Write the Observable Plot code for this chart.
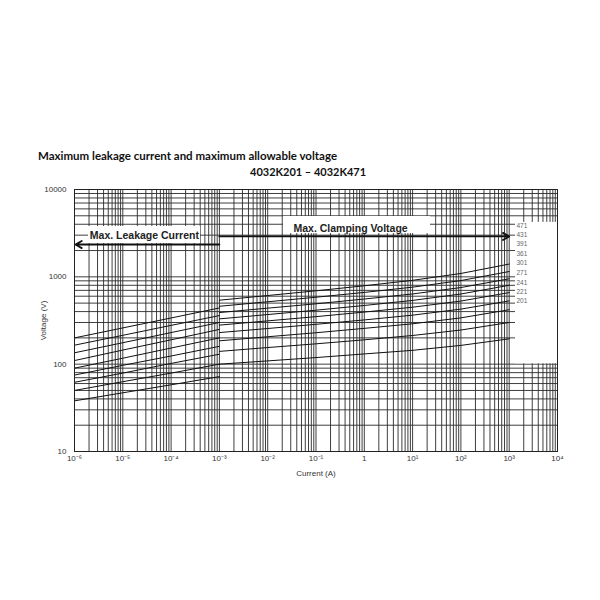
<!DOCTYPE html>
<html><head><meta charset="utf-8">
<script src="https://cdn.jsdelivr.net/npm/d3@7"></script>
<script src="https://cdn.jsdelivr.net/npm/@observablehq/plot@0.6"></script>
<style>
body{margin:0;background:#fff;}
#wrap{position:relative;width:600px;height:600px;background:#fff;}
#head{position:relative;height:180px;}
#title{position:absolute;left:38px;top:149px;font:bold 11.5px Lato, "Open Sans", sans-serif;color:#111;white-space:nowrap;}
#sub{position:absolute;left:250px;top:165px;font:bold 11px Lato, "Open Sans", sans-serif;color:#111;white-space:nowrap;}
</style></head>
<body><div id="wrap"><div id="head"><div id="title">Maximum leakage current and maximum allowable voltage</div><div id="sub">4032K201 – 4032K471</div></div><div id="chart"></div></div>
<script>
const models = ["471","431","391","361","301","271","241","221","201"];
const leakI = [1e-6, 1e-5, 1e-4, 1e-3];
const leakV = [
  [200,260,338,440],
  [165,214,278,360],
  [135,176,230,300],
  [110,145,190,250],
  [90,117,153,200],
  [75,97,124,160],
  [62,79,102,130],
  [50,63,79,100],
  [38,47,58,72]
];
const clampI = [1e-3, 1e-2, 1e-1, 1, 10, 100, 1000];
const clampV = [
  [540,611,692,790,912,1093,1400],
  [460,518,584,663,762,906,1150],
  [390,438,491,557,637,754,950],
  [330,370,415,470,537,636,800],
  [280,313,350,395,449,528,660],
  [230,256,286,321,364,427,530],
  [185,206,229,257,290,339,420],
  [140,155,171,190,213,246,300],
  [100,109,119,131,144,164,195]
];
const labelV = [3870,3000,2410,1850,1460,1120,861,679,536];
const xTicks = [1e-6,1e-5,1e-4,1e-3,1e-2,1e-1,1,10,100,1000,10000];
const yTicks = [10,100,1000,10000];
const annotations = ["Max. Leakage Current", "Max. Clamping Voltage"];

const rows = [];
models.forEach((m, i) => {
  leakI.forEach((I, j) => rows.push({model: m, part: "leak", I, V: leakV[i][j]}));
  clampI.forEach((I, j) => rows.push({model: m, part: "clamp", I, V: clampV[i][j]}));
});
const labelRows = models.map((m, i) => ({model: m, V: labelV[i]}));

const gridX = [];
for (let e = -6; e <= 3; e++) for (let k = 1; k <= 9; k++) gridX.push(k * Math.pow(10, e));
gridX.push(1e4);
const gridY = [];
for (let e = 1; e <= 3; e++) for (let k = 1; k <= 9; k++) gridY.push(k * Math.pow(10, e));
gridY.push(1e4);

const boxes = [
  {x1: 1350, x2: 1e4, y1: 101, y2: 4200},
  {x1: 1.95e-6, x2: 4.06e-4, y1: 2400, y2: 3770},
  {x1: 0.0212, x2: 23.5, y1: 3130, y2: 4910}
];
const arrows = [
  {x1: 1e-3, x2: 1.05e-6, y: 2344},
  {x1: 1e-3, x2: 1000, y: 2900}
];
const boxText = [
  {text: annotations[0], x: 2.8e-5, y: 2970},
  {text: annotations[1], x: 0.52, y: 3570}
];

const sup = {"-":"\u207B","0":"\u2070","1":"\u00B9","2":"\u00B2","3":"\u00B3","4":"\u2074","5":"\u2075","6":"\u2076","7":"\u2077","8":"\u2078","9":"\u2079"};
const fmtX = d => {
  const e = Math.round(Math.log10(d));
  if (e === 0) return "1";
  return "10" + String(e).split("").map(c => sup[c]).join("");
};

const chart = Plot.plot({
  width: 600, height: 320,
  marginTop: 9, marginLeft: 74, marginRight: 43, marginBottom: 49,
  x: {type: "log", domain: [1e-6, 1e4]},
  y: {type: "log", domain: [10, 10000]},
  style: {fontFamily: "'Liberation Sans', Arial, sans-serif", fontSize: "8px", color: "#333", background: "#fff"},
  marks: [
    Plot.ruleX(gridX, {stroke: "#2a2a2a", strokeWidth: 1, strokeOpacity: 0.9}),
    Plot.ruleY(gridY, {stroke: "#2a2a2a", strokeWidth: 1, strokeOpacity: 0.9}),
    Plot.rect(boxes, {x1: "x1", x2: "x2", y1: "y1", y2: "y2", fill: "white"}),
    Plot.line(rows, {x: "I", y: "V", z: d => d.model + d.part, stroke: "#111", strokeWidth: 1}),
    Plot.arrow(arrows, {x1: "x1", x2: "x2", y1: "y", y2: "y", stroke: "#111", strokeWidth: 1.8, headLength: 6}),
    Plot.text(boxText, {x: "x", y: "y", text: "text", fontWeight: "bold", fontSize: 10.5, fill: "#222"}),
    Plot.text(labelRows, {x: 1416, y: "V", text: "model", textAnchor: "start", fontSize: 6.5, fill: "#666"}),
    Plot.frame({stroke: "#222"}),
    Plot.axisX({ticks: xTicks, tickFormat: fmtX, tickSize: 0, tickPadding: 4, label: "Current (A)", labelAnchor: "center", labelArrow: "none", labelOffset: 24}),
    Plot.axisY({ticks: yTicks, tickFormat: d => String(d), tickSize: 0, tickPadding: 8, label: "Voltage (V)", labelAnchor: "center", labelArrow: "none", labelOffset: 34})
  ]
});
document.getElementById("chart").appendChild(chart);
</script>
</body></html>
